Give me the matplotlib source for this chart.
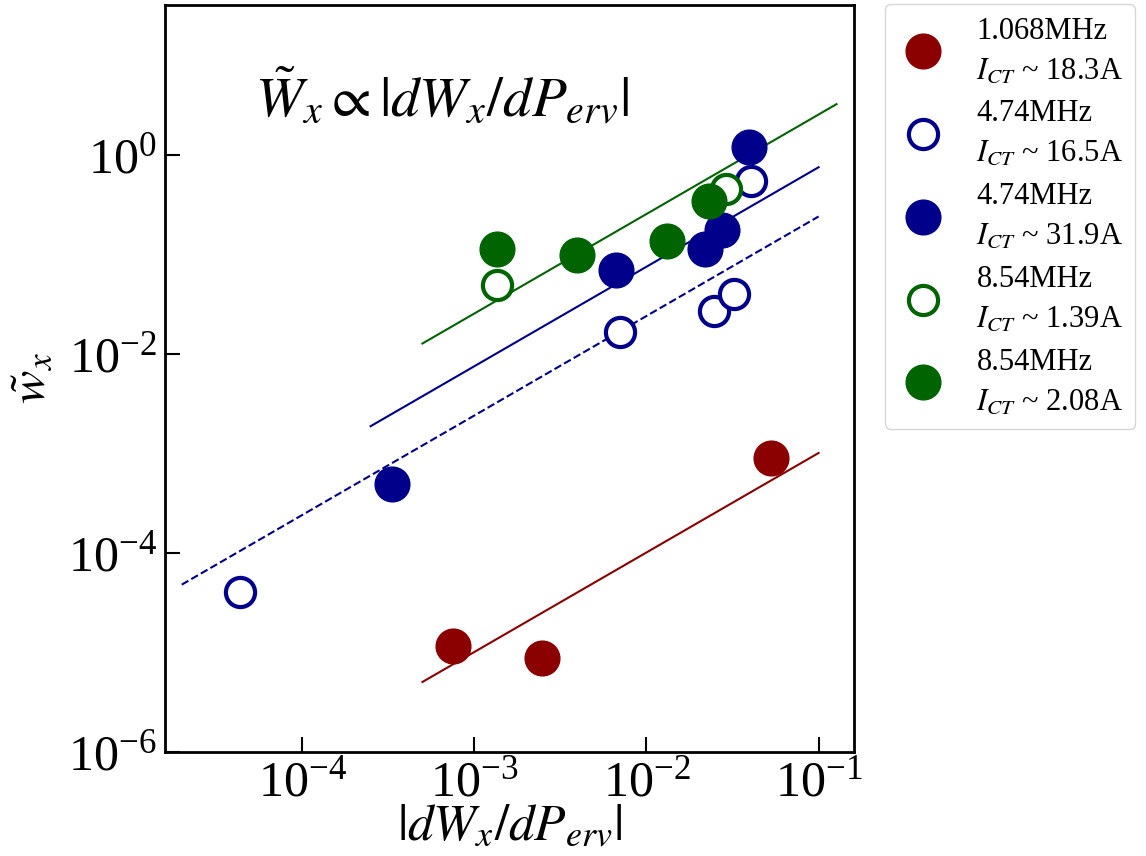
import matplotlib
matplotlib.use("Agg")
import matplotlib.pyplot as plt
import numpy as np

plt.rcParams['font.family'] = ['Liberation Serif', 'DejaVu Serif']
plt.rcParams['mathtext.fontset'] = 'stix'

# ---- data ----
red_x = [7.52e-4, 2.47e-3, 0.0527]
red_y = [1.16e-5, 8.8e-6, 9.0e-4]

blue_open_x = [4.37e-5, 7.0e-3, 0.0246, 0.0321, 0.0404]
blue_open_y = [4.06e-5, 0.0166, 0.027, 0.040, 0.548]

blue_fill_x = [3.33e-4, 6.64e-3, 0.0218, 0.0274, 0.0393]
blue_fill_y = [4.93e-4, 0.0699, 0.1136, 0.176, 1.2]

green_open_x = [1.36e-3, 0.0289]
green_open_y = [0.0493, 0.455]

green_fill_x = [1.36e-3, 3.94e-3, 0.0131, 0.023]
green_fill_y = [0.1136, 0.0989, 0.137, 0.345]

# proportional fit lines: endpoints (x) and coefficients
red_fit_x = [5e-4, 0.1]
red_fit_c = 0.0101
blue_dash_fit_x = [2e-5, 0.1]
blue_dash_fit_c = 2.4
blue_fit_x = [2.5e-4, 0.1]
blue_fit_c = 7.5
green_fit_x = [5e-4, 0.127]
green_fit_c = 25.4

labels = ["1.068MHz\n$I_{CT}$ ~ 18.3A",
          "4.74MHz\n$I_{CT}$ ~ 16.5A",
          "4.74MHz\n$I_{CT}$ ~ 31.9A",
          "8.54MHz\n$I_{CT}$ ~ 1.39A",
          "8.54MHz\n$I_{CT}$ ~ 2.08A"]

RED = '#8b0000'
BLUE = '#00008b'
GREEN = '#006400'

fig = plt.figure(figsize=(11.46, 8.56), dpi=100)
ax = fig.add_axes([0.144, 0.1215, 0.601, 0.8727])

ms = 25
h1, = ax.plot(red_x, red_y, 'o', ms=ms, color=RED, mec=RED, ls='none', zorder=3)
h2, = ax.plot(blue_open_x, blue_open_y, 'o', ms=ms - 4, mfc='white', mec=BLUE, mew=3, ls='none', zorder=3)
h3, = ax.plot(blue_fill_x, blue_fill_y, 'o', ms=ms, color=BLUE, ls='none', zorder=3)
h4, = ax.plot(green_open_x, green_open_y, 'o', ms=ms - 4, mfc='white', mec=GREEN, mew=3, ls='none', zorder=3)
h5, = ax.plot(green_fill_x, green_fill_y, 'o', ms=ms, color=GREEN, ls='none', zorder=3)

for fx, c, col, ls in [(red_fit_x, red_fit_c, RED, '-'),
                       (blue_dash_fit_x, blue_dash_fit_c, BLUE, '--'),
                       (blue_fit_x, blue_fit_c, BLUE, '-'),
                       (green_fit_x, green_fit_c, GREEN, '-')]:
    fx = np.array(fx)
    ax.plot(fx, c * fx, ls=ls, color=col, lw=1.5, zorder=2)

ax.set_xscale('log')
ax.set_yscale('log')
ax.set_xlim(1.6e-5, 0.16)
ax.set_ylim(1e-6, 32)
ax.set_xticks([1e-4, 1e-3, 1e-2, 1e-1])
ax.set_yticks([1e-6, 1e-4, 1e-2, 1e0])
ax.minorticks_off()
ax.tick_params(direction='in', length=11, width=1.5, labelsize=36, pad=6)
for s in ax.spines.values():
    s.set_linewidth(2)

ax.set_xlabel(r'$|dW_x/dP_{erv}|$', fontsize=37, labelpad=-2)
ax.set_ylabel(r'$\tilde{w}_x$', fontsize=36, labelpad=8)
ax.text(0.13, 0.877, r'$\tilde{W}_x \propto |dW_x/dP_{erv}|$', transform=ax.transAxes,
        fontsize=41, ha='left', va='center')

leg = fig.legend([h1, h2, h3, h4, h5], labels, loc='upper left',
                 bbox_to_anchor=(0.772, 0.995), borderaxespad=0, fontsize=22,
                 frameon=True, handletextpad=0.9, labelspacing=0.45, borderpad=0.4,
                 markerscale=1.0, handlelength=1.7)
for t in leg.get_texts():
    t.set_linespacing(1.5)

fig.savefig('out.png', dpi=100)
